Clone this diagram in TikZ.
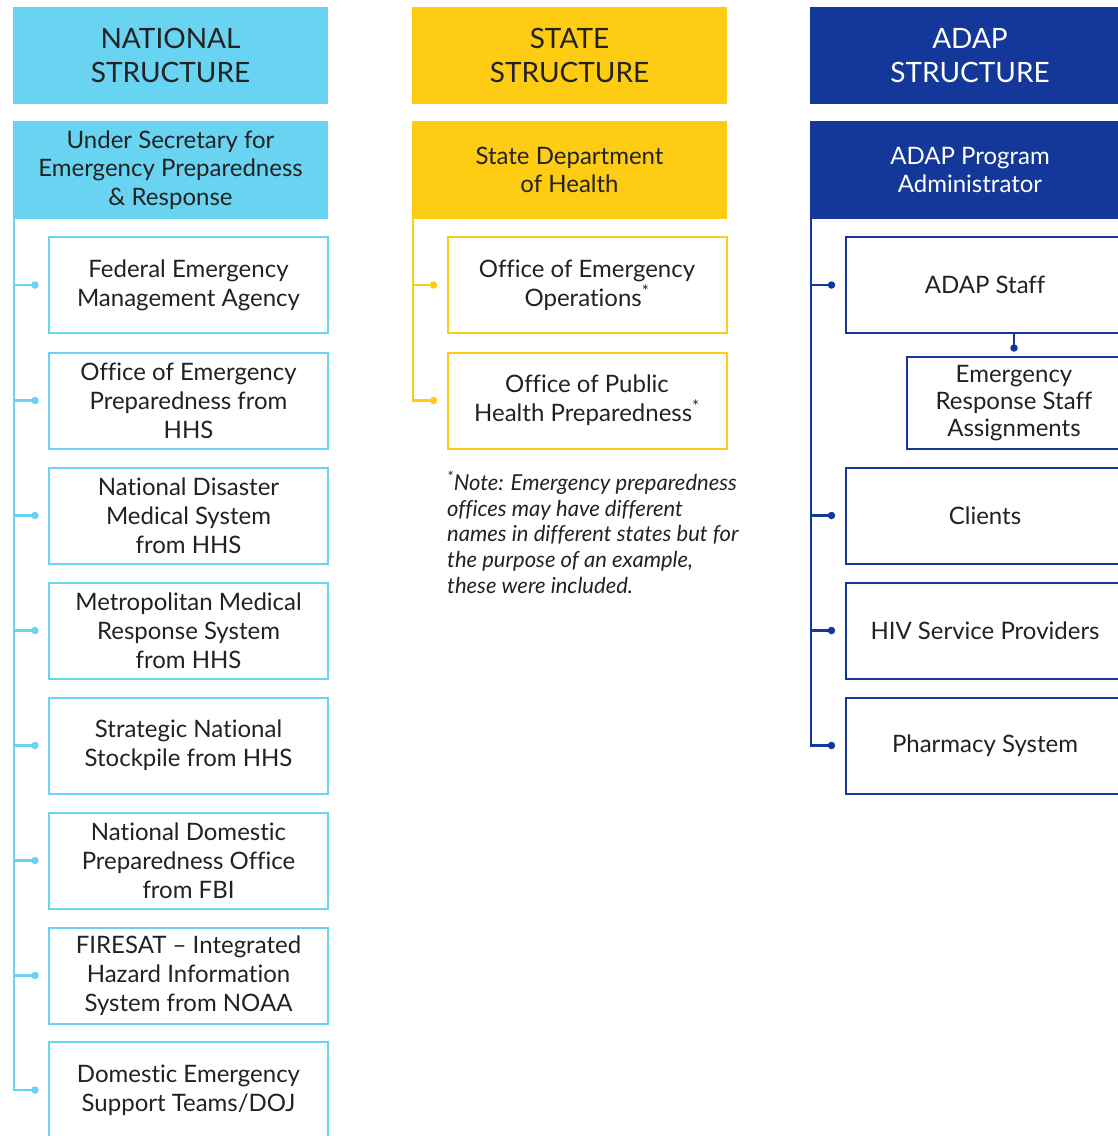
\documentclass[tikz,border=0pt]{standalone}
\usepackage{fontspec}
\setmainfont{Lato}[Ligatures={NoCommon}]
\usetikzlibrary{calc}
\definecolor{nblue}{HTML}{69D3F2}
\definecolor{syel}{HTML}{FFCC14}
\definecolor{adark}{HTML}{14389A}
\definecolor{txt}{HTML}{222222}
\tikzset{
  head/.style={fill=#1, draw=none, minimum width=315, minimum height=97, align=center, inner sep=0, font=\fontsize{28}{34}\selectfont, text=txt},
  subhead/.style={fill=#1, draw=none, minimum width=315, minimum height=98, align=center, inner sep=0, font=\fontsize{24}{28.5}\selectfont, text=txt},
  ibox/.style={draw=#1, line width=2, fill=white, minimum width=279, minimum height=96, align=center, inner sep=0, font=\fontsize{24}{29}\selectfont, text=txt},
  conn/.style={draw=#1, line width=2.2},
  dotc/.style={circle, fill=#1, inner sep=0, minimum size=7.5}
}
\begin{document}
\begin{tikzpicture}[x=1pt,y=-1pt]
\useasboundingbox (0,0) rectangle (1118,1136);
% ---------- National ----------
\node[head=nblue] (nh) at (170.5,55.5) {NATIONAL\\STRUCTURE};
\node[subhead=nblue] (ns) at (170.5,170) {Under Secretary for\\Emergency Preparedness\\\& Response};
\node[ibox=nblue] (n1) at (188.5,285) {Federal Emergency\\Management Agency};
\node[ibox=nblue] (n2) at (188.5,400.5) {Office of Emergency\\Preparedness from\\HHS};
\node[ibox=nblue] (n3) at (188.5,515.5) {National Disaster\\Medical System\\from HHS};
\node[ibox=nblue] (n4) at (188.5,630.5) {Metropolitan Medical\\Response System\\from HHS};
\node[ibox=nblue] (n5) at (188.5,745.5) {Strategic National\\Stockpile from HHS};
\node[ibox=nblue] (n6) at (188.5,860.5) {National Domestic\\Preparedness Office\\from FBI};
\node[ibox=nblue] (n7) at (188.5,975.5) {FIRESAT -- Integrated\\Hazard Information\\System from NOAA};
\node[ibox=nblue] (n8) at (188.5,1090) {Domestic Emergency\\Support Teams/DOJ};
\foreach \k in {1,...,8}{
  \draw[conn=nblue] ([xshift=1.5]ns.south west) |- ([xshift=-13]n\k.west) coordinate (ne\k);
  \node[dotc=nblue] at (ne\k) {};
}
% ---------- State ----------
\node[head=syel] (sh) at (569.5,55.5) {STATE\\STRUCTURE};
\node[subhead=syel] (ss) at (569.5,170) {State Department\\of Health};
\node[ibox=syel] (s1) at (587,285) {Office of Emergency\\Operations\textsuperscript{*}};
\node[ibox=syel] (s2) at (587,400.5) {Office of Public\\Health Preparedness\textsuperscript{*}};
\foreach \k in {1,2}{
  \draw[conn=syel] ([xshift=1.5]ss.south west) |- ([xshift=-13]s\k.west) coordinate (se\k);
  \node[dotc=syel] at (se\k) {};
}
\node[anchor=north west, align=left, inner sep=0, text=txt, font=\fontsize{22}{25.7}\selectfont\itshape] (note) at (447,471)
  {\textsuperscript{*}Note: Emergency preparedness\\offices may have different\\names in different states but for\\the purpose of an example,\\these were included.};
% ---------- ADAP ----------
\node[head=adark, text=white, minimum width=320] (ah) at (970,55.5) {ADAP\\STRUCTURE};
\node[subhead=adark, text=white, minimum width=320] (as) at (970,170) {ADAP Program\\Administrator};
\node[ibox=adark] (a1) at (985,285) {ADAP Staff};
\node[ibox=adark, minimum width=214, minimum height=92, font=\fontsize{24}{27}\selectfont] (a2) at (1014,403) {Emergency\\Response Staff\\Assignments};
\node[ibox=adark] (a3) at (985,515.5) {Clients};
\node[ibox=adark] (a4) at (985,630.5) {HIV Service Providers};
\node[ibox=adark] (a5) at (985,745.5) {Pharmacy System};
\foreach \k in {1,3,4,5}{
  \draw[conn=adark] ([xshift=1.5]as.south west) |- ([xshift=-13]a\k.west) coordinate (ae\k);
  \node[dotc=adark] at (ae\k) {};
}
\draw[conn=adark] (a1.south -| a2.north) -- ([yshift=8]a2.north) coordinate (ae2);
\node[dotc=adark] at (ae2) {};
\end{tikzpicture}
\end{document}
